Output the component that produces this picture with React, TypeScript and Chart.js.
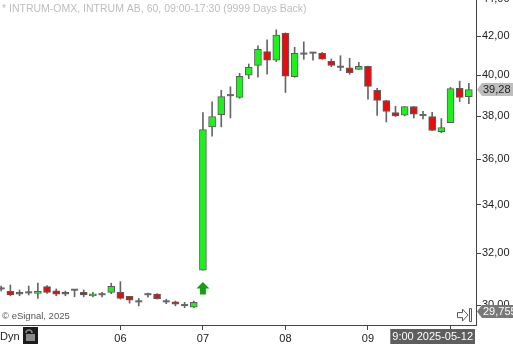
import { useEffect, useRef } from 'react';
import { Chart, registerables } from 'chart.js';

Chart.register(...registerables);

const FONT = '"Liberation Sans", Arial, sans-serif';

// hourly bars (date hour)
const barTimes = [
  '05-02 14', '05-02 15', '05-02 16', '05-02 17',
  '05-05 09', '05-05 10', '05-05 11', '05-05 12', '05-05 13', '05-05 14', '05-05 15', '05-05 16', '05-05 17',
  '05-06 09', '05-06 10', '05-06 11', '05-06 12', '05-06 13', '05-06 14', '05-06 15', '05-06 16', '05-06 17',
  '05-07 09', '05-07 10', '05-07 11', '05-07 12', '05-07 13', '05-07 14', '05-07 15', '05-07 16', '05-07 17',
  '05-08 09', '05-08 10', '05-08 11', '05-08 12', '05-08 13', '05-08 14', '05-08 15', '05-08 16', '05-08 17',
  '05-09 09', '05-09 10', '05-09 11', '05-09 12', '05-09 13', '05-09 14', '05-09 15', '05-09 16', '05-09 17',
  '05-12 09', '05-12 10', '05-12 11',
];

const opens = [
  30.63, 30.52, 30.48, 30.48, 30.44, 30.70, 30.54, 30.48, 30.58, 30.48, 30.34, 30.41, 30.48,
  30.48, 30.33, 30.14, 30.41, 30.41, 30.14, 30.12, 30.00, 29.92,
  31.34, 37.49, 38.07, 39.01, 38.90, 39.99, 40.49, 41.19, 40.75,
  42.15, 39.92, 41.09, 41.14, 41.11, 40.70, 40.42, 40.37, 40.29,
  40.44, 39.24, 38.75, 38.17, 38.04, 38.46, 38.05, 37.98, 37.27,
  37.69, 39.34, 38.94,
];
const highs = [
  30.72, 30.76, 30.57, 30.72, 30.84, 30.74, 30.61, 30.53, 30.58, 30.57, 30.48, 30.48, 30.83,
  30.89, 30.33, 30.25, 30.45, 30.43, 30.22, 30.15, 30.10, 30.15,
  38.17, 38.68, 39.25, 39.42, 40.09, 40.56, 41.49, 41.80, 42.33,
  42.17, 41.42, 41.70, 41.14, 41.16, 40.81, 40.98, 40.85, 40.64,
  40.45, 39.34, 38.76, 38.47, 38.46, 38.46, 38.23, 38.18, 37.88,
  39.39, 39.70, 39.59,
];
const lows = [
  30.53, 30.35, 30.35, 30.38, 30.25, 30.44, 30.35, 30.35, 30.31, 30.31, 30.31, 30.31, 30.43,
  30.22, 30.07, 29.97, 30.30, 30.22, 30.05, 29.97, 29.90, 29.90,
  31.34, 37.06, 37.49, 37.91, 38.85, 39.82, 39.89, 40.04, 40.68,
  39.14, 39.89, 40.80, 40.76, 40.81, 40.42, 40.22, 40.04, 40.29,
  38.81, 38.03, 37.72, 37.98, 38.01, 37.91, 37.86, 37.31, 37.22,
  37.69, 38.70, 38.60,
];
const closes = [
  30.63, 30.38, 30.41, 30.48, 30.52, 30.48, 30.41, 30.41, 30.58, 30.38, 30.42, 30.41, 30.71,
  30.25, 30.18, 30.14, 30.41, 30.24, 30.14, 30.03, 30.00, 30.10,
  37.36, 37.98, 38.94, 39.01, 39.94, 40.39, 41.31, 40.76, 42.05,
  39.95, 41.11, 41.09, 41.14, 40.81, 40.49, 40.42, 40.12, 40.44,
  39.44, 38.75, 38.22, 38.01, 38.46, 38.09, 38.05, 37.32, 37.46,
  39.33, 38.90, 39.28,
];

const xTickIndex = [13, 22, 31, 40, 49];
const xTickLabels = ['06', '07', '08', '09', '9:00 2025-05-12'];
const yTicks = [30, 32, 34, 36, 38, 40, 42, 44];
const signalIndex = [22];
const lowMarkerValue = 29.755;
const titleText = '* INTRUM-OMX, INTRUM AB, 60, 09:00-17:30 (9999 Days Back)';

const GREEN = '#1ef01e';
const RED = '#e80c0c';
const EDGE = '#5c5c5c';

const fmt = (v: number, d = 2) => v.toFixed(d).replace('.', ',');

const overlay = {
  id: 'overlay',
  afterDraw(chart: any) {
    const { ctx } = chart;
    const xs = chart.scales.x;
    const ys = chart.scales.y;
    ctx.save();
    ctx.textBaseline = 'middle';
    ctx.textAlign = 'left';

    // title
    ctx.font = `10.5px ${FONT}`;
    ctx.fillStyle = '#bdbdbd';
    ctx.fillText(titleText, 2, 9.5);

    // copyright
    ctx.font = `9.5px ${FONT}`;
    ctx.fillStyle = '#555';
    ctx.fillText('\u00a9 eSignal, 2025', 2, 316.5);

    // Dyn + lock
    ctx.font = `11px ${FONT}`;
    ctx.fillStyle = '#222';
    ctx.fillText('Dyn', 0, 337);
    ctx.fillStyle = '#1c1c1c';
    ctx.fillRect(23, 327, 15, 17);
    ctx.strokeStyle = '#8a8a8a';
    ctx.lineWidth = 1.5;
    ctx.beginPath();
    ctx.arc(29, 333, 3, Math.PI, 0);
    ctx.stroke();
    ctx.fillStyle = '#8a8a8a';
    ctx.fillRect(26, 334, 9, 7);

    // signal arrows
    ctx.fillStyle = '#14a014';
    for (const i of signalIndex) {
      const ax = xs.getPixelForValue(i);
      const ay = ys.getPixelForValue(lows[i]) + 12;
      ctx.beginPath();
      ctx.moveTo(ax, ay);
      ctx.lineTo(ax + 6.5, ay + 6.5);
      ctx.lineTo(ax + 3, ay + 6.5);
      ctx.lineTo(ax + 3, ay + 12.5);
      ctx.lineTo(ax - 3, ay + 12.5);
      ctx.lineTo(ax - 3, ay + 6.5);
      ctx.lineTo(ax - 6.5, ay + 6.5);
      ctx.closePath();
      ctx.fill();
    }

    // date box at last tick
    const lastLabel = xTickLabels[xTickLabels.length - 1];
    ctx.font = `11px ${FONT}`;
    const tw = ctx.measureText(lastLabel).width;
    const right = xs.right - 1;
    ctx.fillStyle = '#5e5e5e';
    ctx.fillRect(right - tw - 4, 329, tw + 4, 15);
    ctx.fillStyle = '#fff';
    ctx.fillText(lastLabel, right - tw - 2, 337);

    // price markers
    const marker = (v: number, text: string, bg: string, fg: string) => {
      const py = ys.getPixelForValue(v);
      const lx = ys.left + 1;
      ctx.fillStyle = bg;
      ctx.beginPath();
      ctx.moveTo(lx, py);
      ctx.lineTo(lx + 5, py - 6.5);
      ctx.lineTo(chart.width, py - 6.5);
      ctx.lineTo(chart.width, py + 6.5);
      ctx.lineTo(lx + 5, py + 6.5);
      ctx.closePath();
      ctx.fill();
      ctx.font = `11px ${FONT}`;
      ctx.fillStyle = fg;
      ctx.fillText(text, lx + 6, py + 0.5);
    };
    marker(closes[closes.length - 1], fmt(closes[closes.length - 1]), '#bdbdbd', '#222');
    marker(lowMarkerValue, fmt(lowMarkerValue, 3), '#787878', '#fff');

    // exit icon
    const cy = ys.getPixelForValue(lowMarkerValue) + 3.5;
    ctx.fillStyle = '#fff';
    ctx.strokeStyle = '#555';
    ctx.lineWidth = 1;
    ctx.beginPath();
    ctx.moveTo(457.5, cy - 2.5);
    ctx.lineTo(462.5, cy - 2.5);
    ctx.lineTo(462.5, cy - 6);
    ctx.lineTo(468, cy);
    ctx.lineTo(462.5, cy + 6);
    ctx.lineTo(462.5, cy + 2.5);
    ctx.lineTo(457.5, cy + 2.5);
    ctx.closePath();
    ctx.fill();
    ctx.stroke();
    ctx.beginPath();
    ctx.rect(469.5, cy - 6.5, 2, 13);
    ctx.fill();
    ctx.stroke();

    ctx.restore();
  },
};

export default function App() {
  const ref = useRef<HTMLCanvasElement>(null);

  useEffect(() => {
    document.body.style.margin = '0';
    const idx = barTimes.map((_, i) => i);
    const wickData = idx.map((i) => ({ x: i, y: [lows[i], highs[i]] }));
    const bodyData = idx.map((i) => ({ x: i, y: [opens[i], closes[i]] }));
    const bodyColors = idx.map((i) => (closes[i] >= opens[i] ? GREEN : RED));
    const dojiData = idx.filter((i) => opens[i] === closes[i]).map((i) => ({ x: i, y: closes[i] }));

    const chart = new Chart(ref.current as HTMLCanvasElement, {
      type: 'bar',
      data: {
        datasets: [
          {
            type: 'bar',
            data: wickData as any,
            backgroundColor: '#666',
            barThickness: 1,
            grouped: false,
            order: 3,
          },
          {
            type: 'bar',
            data: bodyData as any,
            backgroundColor: bodyColors,
            borderColor: EDGE,
            borderWidth: 1,
            borderSkipped: false,
            barThickness: 7,
            grouped: false,
            order: 2,
          },
          {
            type: 'line',
            data: dojiData as any,
            showLine: false,
            pointStyle: 'line',
            pointRadius: 3.5,
            pointHoverRadius: 3.5,
            pointBorderWidth: 2,
            pointBorderColor: '#666',
            borderColor: '#666',
            order: 1,
          } as any,
        ],
      },
      options: {
        responsive: false,
        maintainAspectRatio: false,
        animation: false,
        devicePixelRatio: 1,
        layout: { padding: 0, autoPadding: false },
        plugins: { legend: { display: false }, tooltip: { enabled: false } },
        scales: {
          x: {
            type: 'linear',
            bounds: 'data',
            min: -0.13,
            max: 51.78,
            offset: false,
            afterBuildTicks: (s: any) => {
              s.ticks = xTickIndex.map((v) => ({ value: v }));
            },
            afterFit: (s: any) => {
              s.height = 19;
              s.paddingLeft = 0;
              s.paddingRight = 0;
            },
            ticks: {
              autoSkip: false,
              maxRotation: 0,
              padding: 2,
              color: '#222',
              font: { family: FONT, size: 11 },
              callback: (_v: any, i: number) => (i === xTickLabels.length - 1 ? '' : xTickLabels[i]),
            },
            grid: { offset: false, drawOnChartArea: false, drawTicks: true, tickLength: 5, color: '#444' },
            border: { display: true, color: '#444' },
          },
          y: {
            type: 'logarithmic',
            position: 'right',
            bounds: 'data',
            min: 29.26,
            max: 43.94,
            afterBuildTicks: (s: any) => {
              s.ticks = yTicks.map((v) => ({ value: v }));
            },
            afterFit: (s: any) => {
              s.width = 37;
              s.paddingTop = 0;
              s.paddingBottom = 0;
            },
            ticks: {
              autoSkip: false,
              padding: 1,
              color: '#222',
              font: { family: FONT, size: 11 },
              callback: (v: any) => fmt(Number(v)),
            },
            grid: { drawOnChartArea: false, drawTicks: true, tickLength: 5, color: '#444' },
            border: { display: true, color: '#444' },
          },
        },
      } as any,
      plugins: [overlay],
    });
    return () => chart.destroy();
  }, []);

  return (
    <div style={{ position: 'fixed', left: 0, top: 0, width: 513, height: 344, background: '#fff' }}>
      <canvas ref={ref} width={513} height={344} style={{ display: 'block', width: 513, height: 344 }} />
    </div>
  );
}
